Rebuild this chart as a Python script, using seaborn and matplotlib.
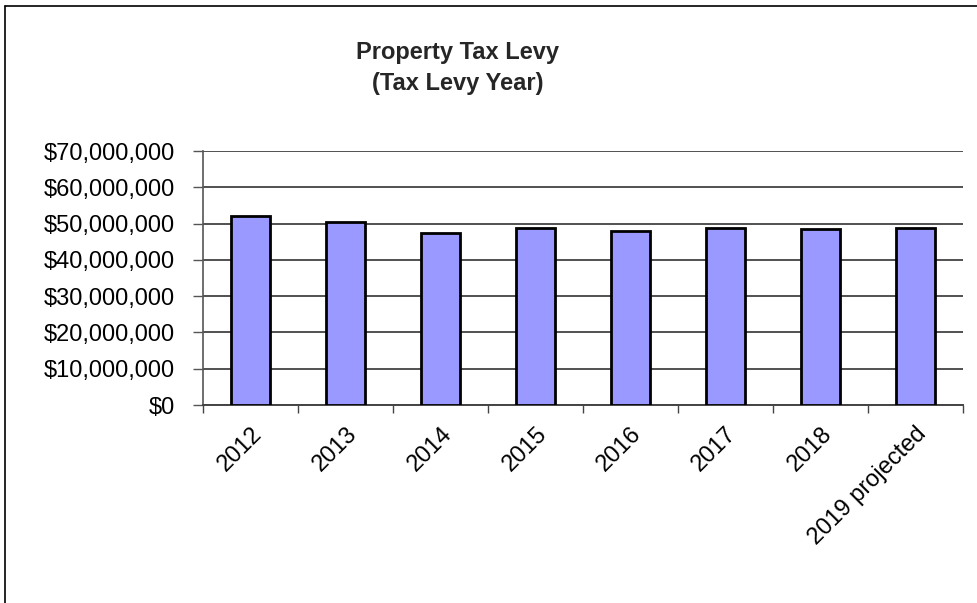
import matplotlib
matplotlib.use("Agg")
import matplotlib.pyplot as plt
import matplotlib.ticker as mticker
from matplotlib.lines import Line2D
import seaborn as sns
import pandas as pd

years = ["2012", "2013", "2014", "2015", "2016", "2017", "2018", "2019 projected"]
levy = [52200000, 50300000, 47500000, 48900000, 48000000, 48900000, 48400000, 48900000]
title_lines = ["Property Tax Levy", "(Tax Levy Year)"]

sns.set_theme(style="white")
plt.rcParams["font.family"] = ["Liberation Sans", "DejaVu Sans"]

df = pd.DataFrame({"year": years, "levy": levy})

fig = plt.figure(figsize=(9.77, 6.03), dpi=100)
ax = fig.add_axes([203/977, 1-405/603, (963-203)/977, (405-151)/603])

sns.barplot(data=df, x="year", y="levy", ax=ax, color="#9999FF",
            edgecolor="black", linewidth=2, width=0.41, saturation=1, zorder=3)

ax.set_ylim(0, 70000000)
ax.set_xlim(-0.5, len(years) - 0.5)
ax.yaxis.set_major_locator(mticker.MultipleLocator(10000000))
ax.yaxis.set_major_formatter(mticker.FuncFormatter(lambda v, p: "${:,.0f}".format(v)))
ax.grid(axis="y", color="#222222", linewidth=1.1, zorder=0)
ax.set_axisbelow(True)
ax.set_xlabel("")
ax.set_ylabel("")

for s in ["top", "right"]:
    ax.spines[s].set_visible(False)
ax.spines["left"].set_color("#555555")
ax.spines["left"].set_linewidth(1.2)
ax.spines["bottom"].set_color("#444444")
ax.spines["bottom"].set_linewidth(1.4)

ax.tick_params(axis="y", which="major", left=True, length=7, width=1, color="#555555",
               labelsize=17, pad=13, labelcolor="black")
ax.set_xticks(range(len(years)))
ax.set_xticklabels(years, rotation=45, ha="right", rotation_mode="anchor")
ax.tick_params(axis="x", which="major", bottom=False, length=0, labelsize=17, pad=13,
               labelcolor="black")
ax.set_xticks([i - 0.5 for i in range(len(years) + 1)], minor=True)
ax.tick_params(axis="x", which="minor", bottom=True, length=6, width=1, color="#444444",
               direction="out")

fig.text(458/977, 1 - 59/603, title_lines[0], ha="center", va="baseline",
         fontsize=17, fontweight="bold")
fig.text(458/977, 1 - 90/603, title_lines[1], ha="center", va="baseline",
         fontsize=17, fontweight="bold")

fig.add_artist(Line2D([5/977, 5/977], [0, 1 - 6/603], color="black", linewidth=1.2,
                      transform=fig.transFigure))
fig.add_artist(Line2D([5/977, 1], [1 - 6/603, 1 - 6/603], color="black", linewidth=1.2,
                      transform=fig.transFigure))

fig.savefig("out.png", dpi=100, facecolor="white")
